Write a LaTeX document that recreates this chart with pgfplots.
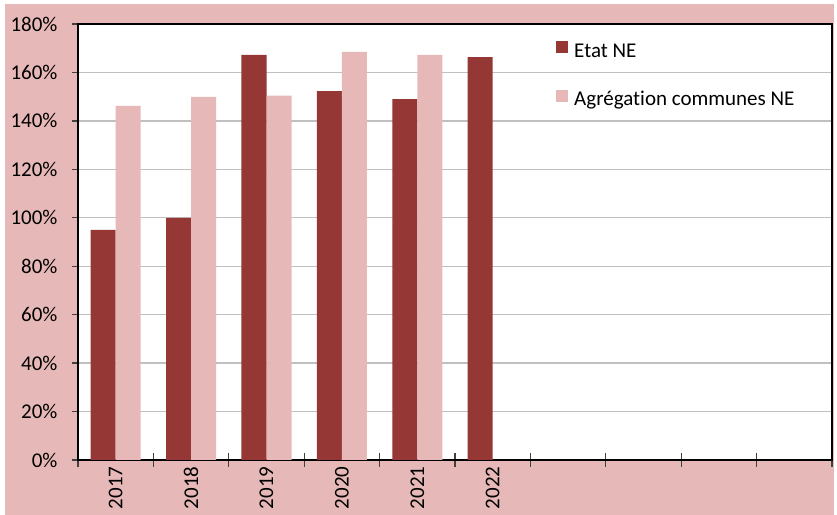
\documentclass[border=0pt]{standalone}
\usepackage{fontspec}
\setmainfont{Carlito}[Ligatures=NoCommon]
\usepackage{pgfplots}
\pgfplotsset{compat=1.18}
\definecolor{etat}{RGB}{149,55,53}
\definecolor{agreg}{RGB}{230,185,184}
\definecolor{gridgray}{RGB}{192,192,192}
\newcommand{\chartfont}{\fontsize{21bp}{25bp}\selectfont}

\begin{document}
\begin{tikzpicture}
\useasboundingbox (0,0) rectangle (837bp,515bp);
\clip (0,0) rectangle (837bp,515bp);
\fill[white] (0,0) rectangle (837bp,515bp);
\fill[agreg] (5bp,0bp) rectangle (834bp,511bp);
\begin{axis}[
    at={(78bp,55bp)}, anchor=south west,
    scale only axis,
    width=754bp, height=436bp,
    xmin=-0.5, xmax=9.5,
    ymin=0, ymax=180,
    axis background/.style={fill=white},
    axis line style={line width=2bp, black},
    xtick={0,1,2,3,4,5},
    xticklabels={2017,2018,2019,2020,2021,2022},
    minor xtick={-0.5,0.5,...,9.5},
    ytick={0,20,...,180},
    yticklabels={0\%,20\%,40\%,60\%,80\%,100\%,120\%,140\%,160\%,180\%},
    xtick pos=bottom, ytick pos=left,
    xtick align=center, ytick align=outside,
    major tick length=6bp, minor tick length=13bp,
    major x tick style={draw=none},
    every tick/.style={line width=1.3bp, black!75},
    ymajorgrids,
    major grid style={line width=1.3bp, gridgray},
    tick label style={font=\chartfont},
    /pgf/number format/assume math mode=true,
    xticklabel style={rotate=90, anchor=east},
    yticklabel style={xshift=-11bp},
    legend style={at={(0.634,0.961)}, anchor=north west, draw=none, fill=none,
        inner sep=0pt, font=\chartfont,
        nodes={inner sep=0pt, text height=13bp, text depth=5bp},
        row sep=27.5bp,
        /tikz/every odd column/.append style={column sep=6bp}},
    legend cell align=left,
    legend image code/.code={\fill[#1,draw=none] (0bp,0bp) rectangle (12bp,12bp);},
]
\addplot[ybar, fill=etat, draw=none, bar width=0.332, bar shift=-0.166]
    coordinates {(0,95) (1,100) (2,167.2) (3,152.3) (4,149) (5,166.3)};
\addlegendentry{Etat NE}
\addplot[ybar, fill=agreg, draw=none, bar width=0.332, bar shift=0.166]
    coordinates {(0,146.2) (1,149.9) (2,150.4) (3,168.5) (4,167.2)};
\addlegendentry{Agrégation communes NE}
\end{axis}
\end{tikzpicture}
\end{document}
